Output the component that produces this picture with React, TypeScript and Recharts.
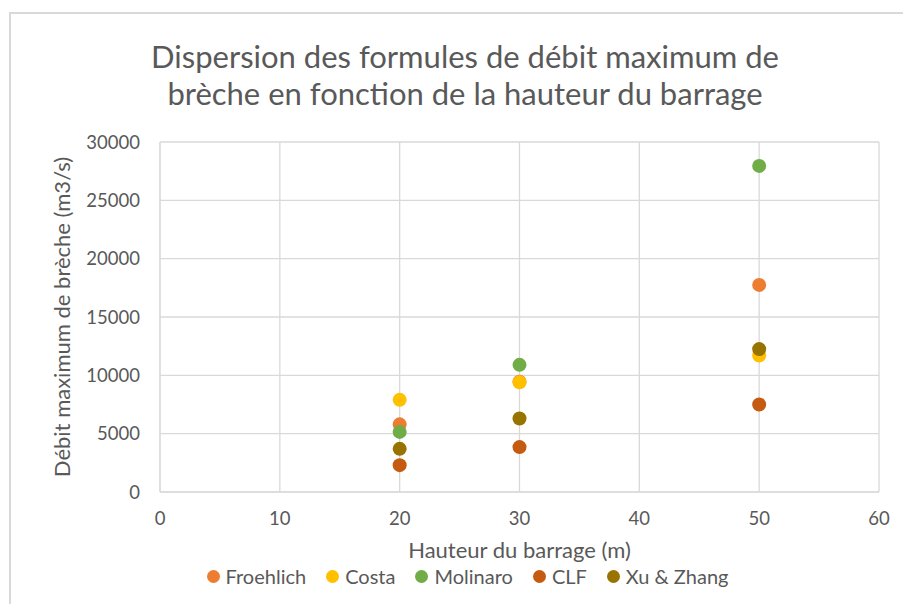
import { CartesianGrid, Scatter, ScatterChart, XAxis, YAxis } from 'recharts';

const heights = [20, 30, 50];
const froehlich = [5800, 9450, 17750];
const costa = [7900, 9400, 11700];
const molinaro = [5150, 10900, 27950];
const clf = [2300, 3850, 7500];
const xuZhang = [3700, 6300, 12250];

const xTicks = [0, 10, 20, 30, 40, 50, 60];
const yTicks = [0, 5000, 10000, 15000, 20000, 25000, 30000];

const series = [
  { name: 'Froehlich', values: froehlich, color: '#ED7D31' },
  { name: 'Costa', values: costa, color: '#FFC000' },
  { name: 'Molinaro', values: molinaro, color: '#70AD47' },
  { name: 'CLF', values: clf, color: '#C55A11' },
  { name: 'Xu & Zhang', values: xuZhang, color: '#997300' },
];

const FONT = "Lato, 'Open Sans', sans-serif";
const TEXT = '#595959';
const GRID = '#D9D9D9';

const toPoints = (values: number[]) => heights.map((h, i) => ({ x: h, y: values[i] }));

function Dot(props: any) {
  return <circle cx={props.cx} cy={props.cy} r={7} fill={props.fill} />;
}

export default function App() {
  return (
    <div style={{ position: 'absolute', left: 0, top: 0, width: 903, height: 604, background: '#fff', overflow: 'hidden' }}>
      <div
        style={{
          position: 'absolute',
          left: 9,
          top: 12,
          width: 1000,
          height: 700,
          borderLeft: `2px solid ${GRID}`,
          borderTop: `2px solid ${GRID}`,
        }}
      />
      <div
        style={{
          position: 'absolute',
          left: 0,
          top: 38,
          width: 930,
          textAlign: 'center',
          fontFamily: FONT,
          fontSize: 31,
          lineHeight: '37px',
          color: TEXT,
        }}
      >
        Dispersion des formules de débit maximum de
        <br />
        brèche en fonction de la hauteur du barrage
      </div>
      <div style={{ position: 'absolute', left: 0, top: 0 }}>
        <ScatterChart width={903} height={604} margin={{ top: 142, right: 24, bottom: 18, left: 40 }}>
          <CartesianGrid stroke={GRID} strokeWidth={1.3} />
          <XAxis
            type="number"
            dataKey="x"
            domain={[0, 60]}
            ticks={xTicks}
            tickLine={false}
            axisLine={{ stroke: GRID }}
            tickMargin={14}
            height={94}
            tick={{ fill: TEXT, fontFamily: FONT, fontSize: 18.5 }}
            label={{
              value: 'Hauteur du barrage (m)',
              position: 'insideTop',
              offset: 50,
              fill: TEXT,
              fontFamily: FONT,
              fontSize: 22,
            }}
          />
          <YAxis
            type="number"
            dataKey="y"
            domain={[0, 30000]}
            ticks={yTicks}
            tickLine={false}
            axisLine={{ stroke: GRID }}
            tickMargin={14}
            width={120}
            tick={{ fill: TEXT, fontFamily: FONT, fontSize: 18.5 }}
            label={{
              value: 'Débit maximum de brèche (m3/s)',
              angle: -90,
              position: 'insideLeft',
              offset: 22,
              style: { textAnchor: 'middle' },
              fill: TEXT,
              fontFamily: FONT,
              fontSize: 22,
            }}
          />
          {series.map((s) => (
            <Scatter
              key={s.name}
              name={s.name}
              data={toPoints(s.values)}
              fill={s.color}
              shape={<Dot />}
              isAnimationActive={false}
            />
          ))}
        </ScatterChart>
      </div>
      <div
        style={{
          position: 'absolute',
          left: 0,
          top: 564,
          width: 903,
          display: 'flex',
          justifyContent: 'center',
          gap: 20,
          fontFamily: FONT,
          fontSize: 20,
          color: TEXT,
          paddingLeft: 32,
          boxSizing: 'border-box',
        }}
      >
        {series.map((s) => (
          <span key={s.name} style={{ display: 'flex', alignItems: 'center' }}>
            <span
              style={{ width: 13, height: 13, borderRadius: 7, background: s.color, display: 'inline-block', marginRight: 6 }}
            />
            {s.name}
          </span>
        ))}
      </div>
    </div>
  );
}
